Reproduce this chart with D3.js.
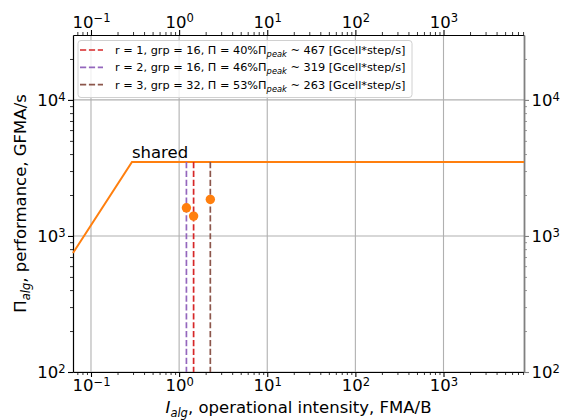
<!DOCTYPE html>
<html>
<head>
<meta charset="utf-8">
<script src="https://cdnjs.cloudflare.com/ajax/libs/d3/7.8.5/d3.min.js"></script>
<style>
body { margin: 0; background: #fff; }
text { font-family: "DejaVu Sans", sans-serif; }
</style>
</head>
<body>
<div id="main"></div>
<script>
// roofline (intensity FMA/B, performance GFMA/s)
var roofIntensity = [0.0625, 0.2917, 8192];
var roofPerf = [750, 3500, 3500];
var peakPerf = 3500;

// measured kernels
var runLabels = ["r = 1, grp = 16, \u03a0 = 40%", "r = 2, grp = 16, \u03a0 = 46%", "r = 3, grp = 32, \u03a0 = 53%"];
var runCells = [467, 319, 263];
var runIntensity = [1.46, 1.21, 2.26];
var runPerf = [1400, 1610, 1855];
var runColors = ["#d62728", "#9467bd", "#8c564b"];

var xDomain = [0.0625, 8192];
var yDomain = [100, 30000];
var xTicks = [0.1, 1, 10, 100, 1000];
var yTicks = [100, 1000, 10000];

var ctx = {
    w: 564,
    h: 420,
    left: 73,
    right: 524,
    top: 35,
    bottom: 372,
    ORANGE: "#ff7f0e",
    GRID: "#b0b0b0",
    FS: 16.5,
};

var minorTicks = function(domain){
    var res = [];
    for (var e = -2; e <= 5; e++){
        for (var m = 2; m <= 9; m++){
            var v = m * Math.pow(10, e);
            if (v > domain[0] && v < domain[1]) res.push(v);
        }
    }
    return res;
};

var supLabel = function(sel, d){
    var e = Math.round(Math.log10(d));
    sel.text("10");
    sel.append("tspan").attr("dy", "-0.45em").attr("font-size", "0.7em").text(e < 0 ? "\u2212" + (-e) : e);
};

var createViz = function(){
    var svg = d3.select("#main").append("svg")
        .attr("width", ctx.w).attr("height", ctx.h);

    var x = d3.scaleLog().domain(xDomain).range([ctx.left, ctx.right]);
    var y = d3.scaleLog().domain(yDomain).range([ctx.bottom, ctx.top]);

    // grid
    var grid = svg.append("g");
    grid.selectAll("line.gx").data(xTicks).enter().append("line")
        .attr("x1", d => x(d)).attr("x2", d => x(d))
        .attr("y1", ctx.top).attr("y2", ctx.bottom)
        .attr("stroke", ctx.GRID).attr("stroke-width", 1.1);
    grid.selectAll("line.gy").data(yTicks).enter().append("line")
        .attr("y1", d => y(d)).attr("y2", d => y(d))
        .attr("x1", ctx.left).attr("x2", ctx.right)
        .attr("stroke", ctx.GRID).attr("stroke-width", 1.1);

    // axes (major ticks with labels + minor ticks)
    var mkAxis = function(axis, scale, major, minor, tr, color){
        var g1 = svg.append("g").attr("transform", tr)
            .call(axis(scale).tickValues(major).tickSizeInner(5).tickSizeOuter(0).tickPadding(2.5));
        g1.selectAll(".tick line").attr("stroke", color).attr("stroke-width", 1.1);
        g1.select(".domain").attr("stroke", color).attr("stroke-width", color == "#000" ? 1.2 : 1.8);
        g1.selectAll(".tick text").attr("font-size", ctx.FS).attr("fill", "#000")
            .each(function(d){ supLabel(d3.select(this), d); });
        var g2 = svg.append("g").attr("transform", tr)
            .call(axis(scale).tickValues(minor).tickSizeInner(3).tickSizeOuter(0).tickFormat(""));
        g2.select(".domain").remove();
        g2.selectAll(".tick line").attr("stroke", color).attr("stroke-width", 0.8);
    };
    mkAxis(d3.axisBottom, x, xTicks, minorTicks(xDomain), "translate(0," + ctx.bottom + ")", "#000");
    mkAxis(d3.axisTop, x, xTicks, minorTicks(xDomain), "translate(0," + ctx.top + ")", "#000");
    mkAxis(d3.axisLeft, y, yTicks, minorTicks(yDomain), "translate(" + ctx.left + ",0)", "#000");
    mkAxis(d3.axisRight, y, yTicks, minorTicks(yDomain), "translate(" + ctx.right + ",0)", "#808080");

    // roofline
    var line = d3.line().x(d => x(d[0])).y(d => y(d[1]));
    svg.append("path")
        .datum(roofIntensity.map((v, i) => [v, roofPerf[i]]))
        .attr("d", line).attr("fill", "none")
        .attr("stroke", ctx.ORANGE).attr("stroke-width", 2);

    svg.append("text").attr("x", x(roofIntensity[1])).attr("y", y(peakPerf) - 4)
        .attr("font-size", ctx.FS).text("shared");

    // vertical dashed lines
    svg.selectAll("line.run").data(runIntensity).enter().append("line")
        .attr("x1", d => x(d)).attr("x2", d => x(d))
        .attr("y1", y(peakPerf)).attr("y2", y(yDomain[0]))
        .attr("stroke", (d, i) => runColors[i]).attr("stroke-width", 1.7)
        .attr("stroke-dasharray", "6.2,2.7");

    // points
    svg.selectAll("circle.run").data(runIntensity).enter().append("circle")
        .attr("cx", d => x(d)).attr("cy", (d, i) => y(runPerf[i]))
        .attr("r", 4.7).attr("fill", ctx.ORANGE);

    // legend
    var lg = svg.append("g").attr("transform", "translate(78,40.5)");
    lg.append("rect").attr("width", 334).attr("height", 57).attr("rx", 3)
        .attr("fill", "#fff").attr("fill-opacity", 0.8)
        .attr("stroke", "#d0d0d0").attr("stroke-width", 1);
    runLabels.forEach(function(lbl, i){
        var yy = 9.5 + i * 17.3;
        lg.append("line").attr("x1", 2).attr("x2", 25).attr("y1", yy).attr("y2", yy)
            .attr("stroke", runColors[i]).attr("stroke-width", 1.7)
            .attr("stroke-dasharray", "6.2,2.7");
        var t = lg.append("text").attr("x", 37).attr("y", yy + 4).attr("font-size", 11.3).text(lbl);
        t.append("tspan").text("\u03a0");
        t.append("tspan").attr("dy", 3).attr("font-size", 8.3).attr("font-style", "italic").text("peak");
        t.append("tspan").attr("dy", -3).text(" ~ " + runCells[i] + " [Gcell*step/s]");
    });

    // axis labels
    var xl = svg.append("text").attr("x", (ctx.left + ctx.right) / 2).attr("y", 413)
        .attr("text-anchor", "middle").attr("font-size", ctx.FS);
    xl.append("tspan").attr("font-style", "italic").text("I");
    xl.append("tspan").attr("dy", 4).attr("font-size", 11.5).attr("font-style", "italic").text("alg");
    xl.append("tspan").attr("dy", -4).text(", operational intensity, FMA/B");

    var yl = svg.append("text")
        .attr("transform", "translate(26," + (ctx.top + ctx.bottom) / 2 + ") rotate(-90)")
        .attr("text-anchor", "middle").attr("font-size", ctx.FS);
    yl.append("tspan").text("\u03a0");
    yl.append("tspan").attr("dy", 4).attr("font-size", 11.5).attr("font-style", "italic").text("alg");
    yl.append("tspan").attr("dy", -4).text(", performance, GFMA/s");
};

createViz();
</script>
</body>
</html>
